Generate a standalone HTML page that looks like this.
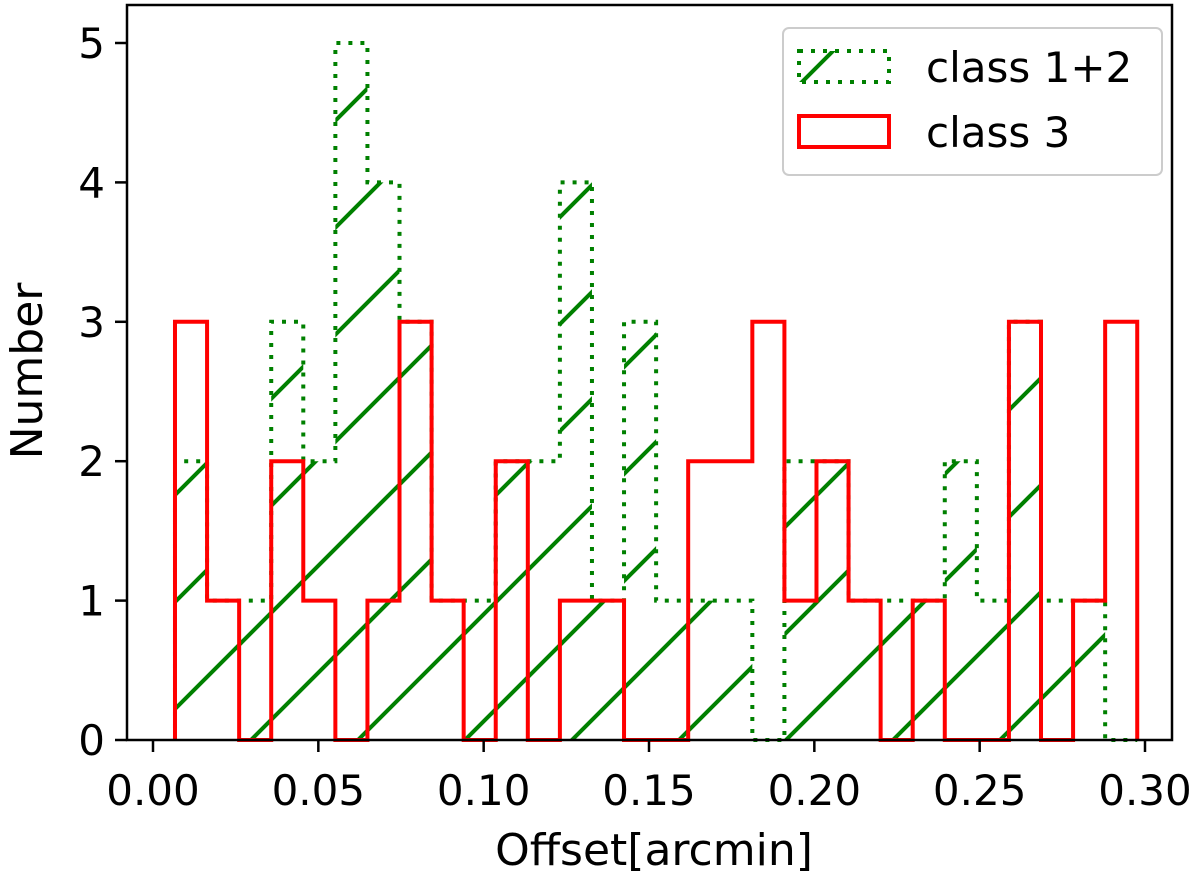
<!DOCTYPE html>
<html><head><meta charset="utf-8"><style>
body{margin:0;background:#fff;}
svg text{font-family:"DejaVu Sans","Liberation Sans",sans-serif;fill:#000;}
</style></head><body>
<svg id="chart" width="1200" height="878" viewBox="0 0 1200 878">
<defs>
<pattern id="hatch" patternUnits="userSpaceOnUse" x="28" y="0" width="107" height="107">
<line x1="0" y1="107" x2="107" y2="0" stroke="#008000" stroke-width="4"/>
<line x1="-10" y1="10" x2="10" y2="-10" stroke="#008000" stroke-width="4"/>
<line x1="97" y1="117" x2="117" y2="97" stroke="#008000" stroke-width="4"/>
</pattern>
</defs>
<g id="plot"></g>
</svg>
<script>
const binStart = 0.00665;
const binWidth = 0.0097;
const class12Counts = [2,1,1,3,2,5,4,3,1,1,2,2,4,1,3,1,1,1,0,2,2,1,1,1,2,1,3,1,1,0];
const class3Counts  = [3,1,0,2,1,0,1,3,1,0,2,0,1,1,0,0,2,2,3,1,2,1,0,1,0,0,3,0,1,3];
const xTicks = [0,0.05,0.10,0.15,0.20,0.25,0.30];
const xTickLabels = ["0.00","0.05","0.10","0.15","0.20","0.25","0.30"];
const yTicks = [0,1,2,3,4,5];

const L=127,R=1172,T=5,B=740;
const xs=v=>153+(v)*(1145-153)/0.30;
const ys=v=>740-v*(740-43)/5;
const NS='http://www.w3.org/2000/svg';
const g=document.getElementById('plot');
function el(tag,attrs){const e=document.createElementNS(NS,tag);for(const k in attrs)e.setAttribute(k,attrs[k]);g.appendChild(e);return e;}

function stepPath(counts){
  let d='M'+xs(binStart)+','+ys(0);
  counts.forEach((c,i)=>{
    const x0=xs(binStart+i*binWidth),x1=xs(binStart+(i+1)*binWidth);
    d+=' L'+x0+','+ys(c)+' L'+x1+','+ys(c);
  });
  d+=' L'+xs(binStart+counts.length*binWidth)+','+ys(0);
  return d;
}
const gh=el('path',{d:stepPath(class12Counts)+' Z',fill:'url(#hatch)',stroke:'none'});


const go=el('path',{d:stepPath(class12Counts),fill:'none',stroke:'#008000','stroke-width':4,'stroke-dasharray':'4,8'});


const ro=el('path',{d:stepPath(class3Counts),fill:'none',stroke:'#ff0000','stroke-width':4});



const frame=el('rect',{x:L,y:T,width:R-L,height:B-T,fill:'none',stroke:'#000','stroke-width':2.5});



xTicks.forEach((t,i)=>{
  const x=xs(t);
  const tk=el('line',{x1:x,y1:B,x2:x,y2:B+12,stroke:'#000','stroke-width':2.5});
  
  
  const tx=el('text',{x:x,y:805,'font-size':42,'text-anchor':'middle'});
  tx.textContent=xTickLabels[i];
  
  
});
yTicks.forEach(t=>{
  const y=ys(t);
  const tk=el('line',{x1:L-12,y1:y,x2:L,y2:y,stroke:'#000','stroke-width':2.5});
  
  
  const tx=el('text',{x:L-22,y:y+15,'font-size':42,'text-anchor':'end'});
  tx.textContent=String(t);
  
  
});
const xt=el('text',{x:654,y:865,'font-size':44,'text-anchor':'middle'});
xt.textContent='Offset[arcmin]';


const yt=el('text',{x:0,y:0,'font-size':44,'text-anchor':'middle',transform:'translate(42,371) rotate(-90)'});
yt.textContent='Number';



const lg=el('rect',{x:783,y:28,width:379,height:147,rx:6,fill:'#fff','fill-opacity':0.8,stroke:'#ccc','stroke-width':2});


const p1=el('rect',{x:799,y:51,width:90,height:31,fill:'url(#hatch)',stroke:'#008000','stroke-width':4,'stroke-dasharray':'4,8'});


const t1=el('text',{x:926,y:82,'font-size':42});
t1.textContent='class 1+2';


const p2=el('rect',{x:799,y:116,width:90,height:31,fill:'none',stroke:'#ff0000','stroke-width':4});


const t2=el('text',{x:926,y:147,'font-size':42});
t2.textContent='class 3';


</script>
</body></html>
